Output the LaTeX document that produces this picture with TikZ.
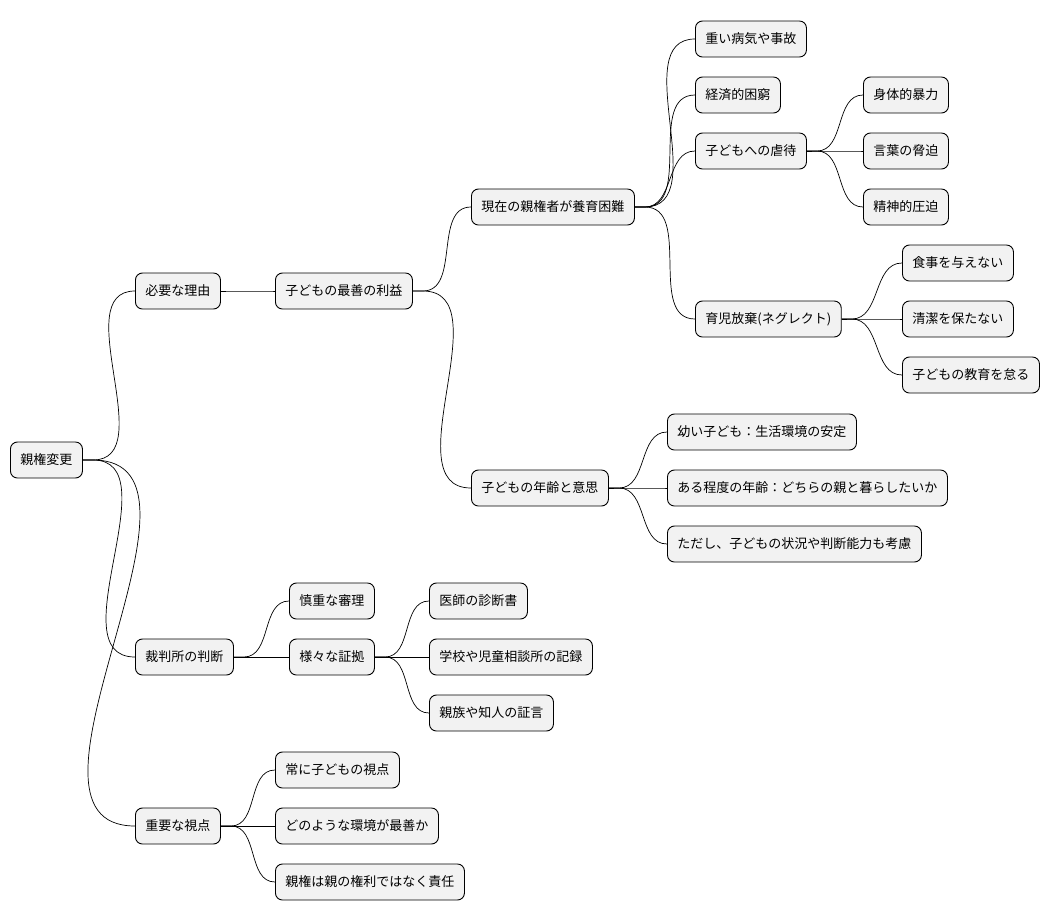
\documentclass[tikz,border=0pt]{standalone}
\usepackage{fontspec}
\setmainfont{Noto Sans CJK JP}
\begin{document}
\begin{tikzpicture}[x=1pt,y=-1pt,
  n/.style={draw=black,line width=0.9pt,fill=gray!10,rounded corners=7pt,anchor=west,minimum height=36,inner xsep=10,font=\fontsize{13}{15}\selectfont},
  e/.style={line width=0.7pt}]
\useasboundingbox (0,0) rectangle (1059,921);
\node[n] (r) at (10,460) {親権変更};
\node[n] (a) at (135,291) {必要な理由};
\node[n] (a1) at (275,291) {子どもの最善の利益};
\node[n] (b1) at (471,207) {現在の親権者が養育困難};
\node[n] (c1) at (695,39) {重い病気や事故};
\node[n] (c2) at (695,95) {経済的困窮};
\node[n] (c3) at (695,151) {子どもへの虐待};
\node[n] (d1) at (863,95) {身体的暴力};
\node[n] (d2) at (863,151) {言葉の脅迫};
\node[n] (d3) at (863,207) {精神的圧迫};
\node[n] (c4) at (695,319) {育児放棄(ネグレクト)};
\node[n] (f1) at (902,263) {食事を与えない};
\node[n] (f2) at (902,319) {清潔を保たない};
\node[n] (f3) at (902,375) {子どもの教育を怠る};
\node[n] (b2) at (471,488) {子どもの年齢と意思};
\node[n] (g1) at (667,432) {幼い子ども：生活環境の安定};
\node[n] (g2) at (667,488) {ある程度の年齢：どちらの親と暮らしたいか};
\node[n] (g3) at (667,544) {ただし、子どもの状況や判断能力も考慮};
\node[n] (s) at (135,657) {裁判所の判断};
\node[n] (s1) at (289,601) {慎重な審理};
\node[n] (s2) at (289,657) {様々な証拠};
\node[n] (t1) at (429,601) {医師の診断書};
\node[n] (t2) at (429,657) {学校や児童相談所の記録};
\node[n] (t3) at (429,713) {親族や知人の証言};
\node[n] (v) at (135,826) {重要な視点};
\node[n] (v1) at (275,770) {常に子どもの視点};
\node[n] (v2) at (275,826) {どのような環境が最善か};
\node[n] (v3) at (275,882) {親権は親の権利ではなく責任};
\foreach \p/\c in {r/a,r/s,r/v,a/a1,a1/b1,a1/b2,b1/c1,b1/c2,b1/c3,b1/c4,c3/d1,c3/d2,c3/d3,c4/f1,c4/f2,c4/f3,b2/g1,b2/g2,b2/g3,s/s1,s/s2,s2/t1,s2/t2,s2/t3,v/v1,v/v2,v/v3}
  \draw[e] (\p.east) -- ++(10,0) to[out=0,in=180] (\c.west);
\end{tikzpicture}
\end{document}
